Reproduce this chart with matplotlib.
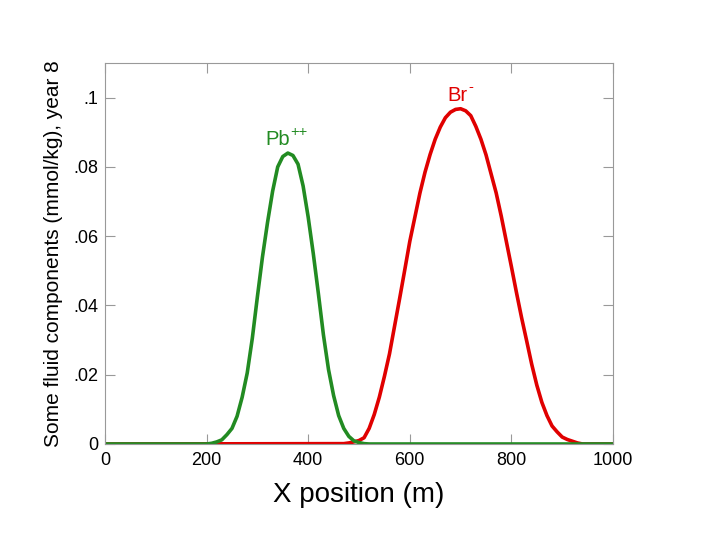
import matplotlib
matplotlib.use('Agg')
import matplotlib.pyplot as plt

plt.rcParams['font.family'] = ['Liberation Sans', 'DejaVu Sans']

# Pb++ concentration profile (x in m, mmol/kg)
pb_x = [0, 200, 210, 220, 230, 240, 250, 260, 270, 280, 290, 300, 310, 320,
        330, 340, 350, 360, 370, 380, 390, 400, 410, 420, 430, 440, 450, 460,
        470, 480, 490, 500, 510, 520, 1000]
pb_y = [0, 0, 0.0002, 0.0006, 0.0012, 0.0027, 0.0045, 0.0080, 0.0135, 0.0205,
        0.0305, 0.0425, 0.0540, 0.0640, 0.0730, 0.0800, 0.0830, 0.0840, 0.0833,
        0.0808, 0.0745, 0.0655, 0.0550, 0.0435, 0.0315, 0.0215, 0.0140, 0.0082,
        0.0045, 0.0022, 0.0009, 0.0004, 0.0001, 0, 0]

# Br- concentration profile
br_x = [0, 470, 480, 490, 500, 510, 520, 530, 540, 550, 560, 570, 580, 590,
        600, 610, 620, 630, 640, 650, 660, 670, 680, 690, 700, 710, 720, 730,
        740, 750, 760, 770, 780, 790, 800, 810, 820, 830, 840, 850, 860, 870,
        880, 890, 900, 910, 920, 930, 940, 1000]
br_y = [0, 0.0001, 0.0003, 0.0006, 0.0010, 0.0018, 0.0045, 0.0085, 0.0135,
        0.0195, 0.0260, 0.0340, 0.0420, 0.0502, 0.0585, 0.0655, 0.0725, 0.0785,
        0.0836, 0.0880, 0.0915, 0.0942, 0.0958, 0.0966, 0.0968, 0.0962, 0.0948,
        0.0917, 0.0880, 0.0835, 0.0780, 0.0725, 0.0658, 0.0585, 0.0512, 0.0437,
        0.0365, 0.0298, 0.0230, 0.0170, 0.0120, 0.0082, 0.0052, 0.0035, 0.0020,
        0.0013, 0.0008, 0.0003, 0, 0]

xticks = [0, 200, 400, 600, 800, 1000]
yticks = [0, 0.02, 0.04, 0.06, 0.08, 0.1]
ytick_labels = ['0', '.02', '.04', '.06', '.08', '.1']

red = '#e00000'
green = '#228b22'

fig = plt.figure(figsize=(7.2, 5.4), dpi=100)
ax = fig.add_axes([0.1458, 0.1778, 0.7056, 0.7055])

ax.plot(br_x, br_y, color=red, lw=2.6, solid_joinstyle='round')
ax.plot(pb_x, pb_y, color=green, lw=2.6, solid_joinstyle='round')

# labels with superscript charges (base text ends where the charge starts)
ax.text(364, 0.0864, 'Pb', color=green, fontsize=14.5, ha='right', va='baseline')
ax.annotate('++', (364, 0.0864), xytext=(0.5, 6), textcoords='offset points',
            color=green, fontsize=10.5, ha='left', va='baseline')
ax.text(713, 0.0991, 'Br', color=red, fontsize=14.5, ha='right', va='baseline')
ax.annotate('-', (713, 0.0991), xytext=(1, 7), textcoords='offset points',
            color=red, fontsize=10.5, ha='left', va='baseline')

ax.set_xlim(0, 1000)
ax.set_ylim(0, 0.11)
ax.set_xticks(xticks)
ax.set_xticklabels([str(t) for t in xticks])
ax.set_yticks(yticks)
ax.set_yticklabels(ytick_labels)
ax.tick_params(direction='in', length=7, width=0.8, color='#999999',
               top=True, right=True, labelsize=13, pad=6)
ax.tick_params(axis='y', pad=5)
for s in ax.spines.values():
    s.set_color('#999999')
    s.set_linewidth(0.8)

ax.set_xlabel('X position (m)', fontsize=20, labelpad=9)
ax.set_ylabel('Some fluid components (mmol/kg), year 8', fontsize=15, labelpad=7)

fig.savefig('out.png', dpi=100)
